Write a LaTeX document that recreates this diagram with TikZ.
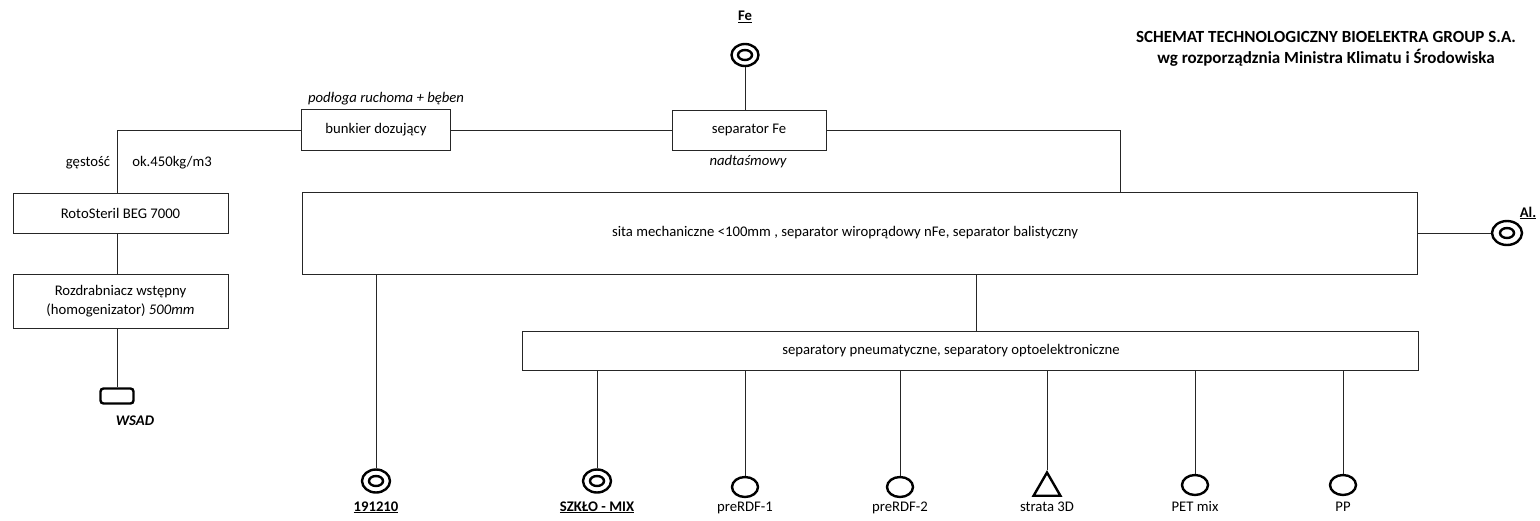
\documentclass[tikz,border=0pt]{standalone}
\usepackage{fontspec}
\setmainfont{Carlito}
\usetikzlibrary{shapes.geometric}
\begin{document}
\begin{tikzpicture}[x=1pt,y=-1pt,
  every node/.style={font=\fontsize{14.7}{18}\selectfont},
  box/.style={draw=black!85, line width=1pt, inner sep=0pt, align=center},
  conn/.style={draw=black!85, line width=1pt},
  dbl/.style={ellipse, draw, line width=2.4pt, minimum width=27, minimum height=22, inner sep=0pt,
    path picture={\draw[line width=2.4pt] (path picture bounding box.center) ellipse (7 and 5);}},
  sgl/.style={ellipse, draw, line width=2.4pt, minimum width=26, minimum height=20, inner sep=0pt},
  tri/.style={regular polygon, regular polygon sides=3, draw, line width=2.4pt, minimum size=31, inner sep=0pt},
  lbl/.style={inner sep=1pt},
  bot/.style={inner sep=0pt, anchor=base},
  ttl/.style={font=\fontsize{17}{20}\selectfont\bfseries}
]
\useasboundingbox (0,0) rectangle (1540,520);

% title
\node[ttl] (t1) at (1326,37) {SCHEMAT TECHNOLOGICZNY BIOELEKTRA GROUP S.A.};
\node[ttl] (t2) at (1326,58) {wg rozporządznia Ministra Klimatu i Środowiska};

% boxes
\node[box, minimum width=149, minimum height=41] (bunk) at (376,130) {bunkier dozujący};
\node[lbl] (bunkt) at (386,99) {\itshape podłoga ruchoma + bęben};
\node[box, minimum width=154, minimum height=40] (sepfe) at (749,130) {separator Fe};
\node[lbl] (sepfet) at (748,162) {\itshape nadtaśmowy};
\node[box, minimum width=215, minimum height=40] (roto) at (120.5,213) {RotoSteril BEG 7000};
\node[box, minimum width=215, minimum height=54] (rozd) at (120.5,301) {};
\node[lbl, align=center] (rozdt) at (120.5,301) {Rozdrabniacz wstępny\\[1pt](homogenizator) \textit{500mm}};
\node[box, minimum width=1115, minimum height=82] (big) at (859.5,233) {};
\node[lbl] (bigt) at (845,233) {sita mechaniczne <100mm , separator wiroprądowy nFe, separator balistyczny};
\node[box, minimum width=896, minimum height=39] (low) at (970,350.5) {};
\node[lbl] (lowt) at (951,350.5) {separatory pneumatyczne, separatory optoelektroniczne};

\node[lbl] (gest) at (88,163) {gęstość};
\node[lbl] (okt) at (172,163) {ok.450kg/m3};

% symbols
\node[dbl] (fe) at (745,55) {};
\node[lbl] (fel) at (745,17) {\bfseries\underline{Fe}};
\node[dbl, minimum width=30, minimum height=24] (al) at (1507,233) {};
\node[lbl] (all) at (1528,213) {\bfseries\underline{Al.}};
\node[draw, line width=2.4pt, rounded corners=3pt, minimum width=33, minimum height=15, inner sep=0pt] (wsad) at (117,396) {};
\node[lbl] (wsadl) at (135,421) {\bfseries\itshape WSAD};

\node[dbl, minimum width=28, minimum height=23] (c1) at (376,481) {};
\node[bot] (l1) at (376,511) {\bfseries\underline{191210}};
\node[dbl, minimum width=28, minimum height=23] (c2) at (597,481) {};
\node[bot] (l2) at (597,511) {\bfseries\underline{SZKŁO - MIX}};
\node[sgl] (c3) at (745,487) {};
\node[bot] (l3) at (745,511) {preRDF-1};
\node[sgl] (c4) at (900,487) {};
\node[bot] (l4) at (900,511) {preRDF-2};
\node[tri] (c5) at (1047,488) {};
\node[bot] (l5) at (1047,511) {strata 3D};
\node[sgl] (c6) at (1195,485) {};
\node[bot] (l6) at (1195,511) {PET mix};
\node[sgl] (c7) at (1343,485) {};
\node[bot] (l7) at (1343,511) {PP};

% connectors
\draw[conn] (bunk.west) -| ([xshift=-3.5pt]roto.north);
\draw[conn] ([xshift=-3.5pt]roto.south) -- ([xshift=-3.5pt]rozd.north);
\draw[conn] ([xshift=-3.5pt]rozd.south) -- (wsad.north);
\draw[conn] (bunk.east) -- (sepfe.west);
\draw[conn] (fe.south) -- (sepfe.north -| fe.south);
\draw[conn] (sepfe.east) -| ([xshift=-297pt]big.north east);
\draw[conn] (big.east) -- (al.west);
\draw[conn] (c1.north |- big.south) -- (c1.north);
\draw[conn] ([xshift=3pt]big.south -| lowt.north) ++(22,0) coordinate (bj) -- (bj |- low.north);
\foreach \c in {c2,c3,c4,c6,c7} {
  \draw[conn] (\c.north |- low.south) -- (\c.north);
}
\draw[conn] (c5.corner 1 |- low.south) -- (c5.corner 1);
\end{tikzpicture}
\end{document}
